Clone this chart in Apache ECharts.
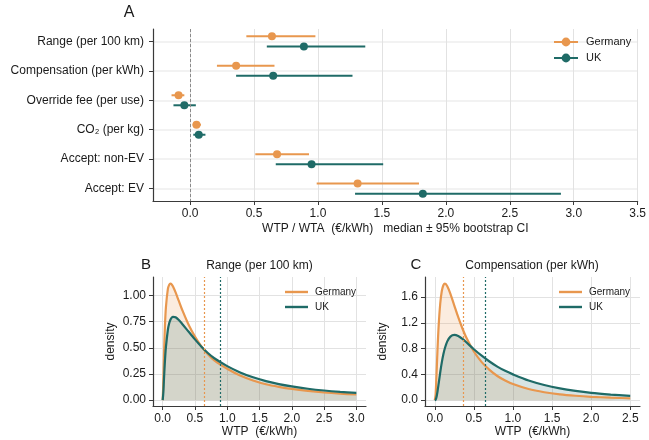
<!DOCTYPE html>
<html><head><meta charset="utf-8">
<script src="https://cdn.jsdelivr.net/npm/echarts@6/dist/echarts.min.js"></script>
<style>html,body{margin:0;padding:0;background:#fff}#c{width:649px;height:440px}</style>
</head><body><div id="c"></div>
<script>
// ---- data ----
const categories = ['Range (per 100 km)', 'Compensation (per kWh)', 'Override fee (per use)', 'CO₂ (per kg)', 'Accept: non-EV', 'Accept: EV'];
const gerMed = [0.64, 0.36, -0.09, 0.05, 0.68, 1.31];
const gerLo  = [0.44, 0.21, -0.145, 0.02, 0.51, 0.99];
const gerHi  = [0.98, 0.66, -0.045, 0.085, 0.93, 1.79];
const ukMed  = [0.89, 0.65, -0.045, 0.068, 0.95, 1.82];
const ukLo   = [0.60, 0.36, -0.13, 0.025, 0.67, 1.29];
const ukHi   = [1.37, 1.27, 0.045, 0.12, 1.51, 2.90];
const xTicksA = [0, 0.5, 1.0, 1.5, 2.0, 2.5, 3.0, 3.5];

const densXB   = [0, 0.01, 0.02, 0.035, 0.05, 0.08, 0.1, 0.12, 0.14, 0.16, 0.2, 0.25, 0.3, 0.4, 0.5, 0.6, 0.7, 0.8, 1.0, 1.2, 1.4, 1.6, 1.8, 2.0, 2.25, 2.5, 2.75, 3.0];
const densGerB = [0, 0.176, 0.426, 0.707, 0.885, 1.060, 1.101, 1.113, 1.105, 1.085, 1.029, 0.947, 0.866, 0.722, 0.606, 0.513, 0.439, 0.380, 0.300, 0.235, 0.188, 0.152, 0.127, 0.107, 0.088, 0.073, 0.062, 0.054];
const densUKB  = [0, 0.070, 0.200, 0.375, 0.506, 0.670, 0.732, 0.768, 0.788, 0.796, 0.791, 0.765, 0.730, 0.655, 0.580, 0.510, 0.450, 0.400, 0.325, 0.265, 0.218, 0.182, 0.153, 0.131, 0.109, 0.092, 0.079, 0.069];
const xTicksB = [0, 0.5, 1.0, 1.5, 2.0, 2.5, 3.0];
const yTicksB = [0, 0.25, 0.5, 0.75, 1.0];

const densXC   = [0, 0.01, 0.02, 0.035, 0.05, 0.07, 0.09, 0.11, 0.13, 0.16, 0.2, 0.25, 0.3, 0.35, 0.4, 0.5, 0.6, 0.7, 0.8, 0.9, 1.0, 1.2, 1.4, 1.6, 1.8, 2.0, 2.25, 2.5];
const densGerC = [0, 0.074, 0.330, 0.784, 1.160, 1.500, 1.693, 1.783, 1.808, 1.769, 1.651, 1.468, 1.287, 1.123, 0.980, 0.755, 0.590, 0.470, 0.375, 0.305, 0.250, 0.172, 0.123, 0.090, 0.068, 0.052, 0.038, 0.028];
const densUKC  = [0, 0.005, 0.036, 0.134, 0.260, 0.433, 0.586, 0.711, 0.809, 0.912, 0.986, 1.012, 0.995, 0.954, 0.902, 0.790, 0.690, 0.600, 0.520, 0.455, 0.400, 0.305, 0.235, 0.182, 0.143, 0.113, 0.087, 0.066];
const xTicksC = [0, 0.5, 1.0, 1.5, 2.0, 2.5];
const yTicksC = [0, 0.4, 0.8, 1.2, 1.6];

// ---- style ----
const GER = '#E8974E', UK = '#1F6B67';
const FONT = 'Liberation Sans';
const TXT = '#1a1a1a';
const AX = '#3a3a3a';
const OFF = 0.17;

function xAx(gi, min, max, ticks, dec, name, gap) {
  return {
    gridIndex: gi, type: 'value', min: min, max: max,
    axisLine: { show: true, onZero: false, lineStyle: { color: AX, width: 1.2 } },
    axisTick: { show: true, length: 4, customValues: ticks, lineStyle: { color: AX, width: 1 } },
    axisLabel: { customValues: ticks, formatter: v => v.toFixed(dec), fontSize: 12, color: TXT, margin: 7, fontFamily: FONT },
    splitLine: { show: true, lineStyle: { color: '#e2e2e2', width: 1 } },
    name: name, nameLocation: 'middle', nameGap: gap,
    nameTextStyle: { fontSize: 12, color: TXT, fontFamily: FONT }
  };
}
function yAx(gi, min, max, ticks, dec, name, gap) {
  return {
    gridIndex: gi, type: 'value', min: min, max: max,
    axisLine: { show: true, onZero: false, lineStyle: { color: AX, width: 1.2 } },
    axisTick: { show: true, length: 4, customValues: ticks, lineStyle: { color: AX, width: 1 } },
    axisLabel: { customValues: ticks, formatter: v => v.toFixed(dec), fontSize: 12, color: TXT, margin: 7, fontFamily: FONT },
    splitLine: { show: true, lineStyle: { color: '#e2e2e2', width: 1 } },
    name: name, nameLocation: 'middle', nameGap: gap,
    nameTextStyle: { fontSize: 12, color: TXT, fontFamily: FONT }
  };
}

const rowIdx = categories.map((c, i) => i);

function errSeries(name, lo, hi, off, color) {
  return {
    name: name, type: 'custom', xAxisIndex: 0, yAxisIndex: 0, z: 3,
    data: lo.map((v, i) => [v, hi[i], i]),
    renderItem: function (params, api) {
      const y = api.value(2) + off;
      const p1 = api.coord([api.value(0), y]);
      const p2 = api.coord([api.value(1), y]);
      return { type: 'line', shape: { x1: p1[0], y1: p1[1], x2: p2[0], y2: p2[1] },
               style: { stroke: color, lineWidth: 2 } };
    }
  };
}
function ptSeries(name, med, off, color, extra) {
  return Object.assign({
    name: name, type: 'scatter', xAxisIndex: 0, yAxisIndex: 0, z: 4,
    symbol: 'circle', symbolSize: 8,
    itemStyle: { color: color, opacity: 1 },
    data: med.map((v, i) => [v, i + off])
  }, extra || {});
}
function densSeries(name, xs, ys, gi, color, med) {
  return {
    name: name, type: 'line', xAxisIndex: gi, yAxisIndex: gi,
    data: xs.map((x, i) => [x, ys[i]]),
    smooth: 0.3, symbol: 'none', showSymbol: false,
    lineStyle: { color: color, width: 2.2 },
    itemStyle: { color: color },
    areaStyle: { color: color, opacity: 0.18 },
    markLine: { silent: true, symbol: 'none', label: { show: false },
      lineStyle: { color: color, type: [2, 2], width: 1.2 },
      data: [{ xAxis: med }] }
  };
}

const option = {
  animation: false,
  textStyle: { fontFamily: FONT },
  grid: [
    { left: 153, top: 29, width: 486, height: 172 },
    { left: 153, top: 277, width: 213, height: 129 },
    { left: 425, top: 277, width: 215, height: 129 }
  ],
  xAxis: [
    xAx(0, -0.29, 3.5, xTicksA, 1, 'WTP / WTA  (€/kWh)   median ± 95% bootstrap CI', 22),
    xAx(1, -0.15, 3.15, xTicksB, 1, 'WTP  (€/kWh)', 20),
    xAx(2, -0.125, 2.625, xTicksC, 1, 'WTP  (€/kWh)', 20)
  ],
  yAxis: [
    {
      gridIndex: 0, type: 'value', min: -0.42, max: 5.42, inverse: true,
      axisLine: { show: true, onZero: false, lineStyle: { color: AX, width: 1.2 } },
      axisTick: { show: true, length: 4, customValues: rowIdx, lineStyle: { color: AX, width: 1 } },
      axisLabel: { customValues: rowIdx, formatter: v => categories[Math.round(v)], fontSize: 12, color: TXT, margin: 9, fontFamily: FONT },
      splitLine: { show: true, lineStyle: { color: '#eeeeee', width: 1.6 } }
    },
    yAx(1, -0.056, 1.176, yTicksB, 2, 'density', 36),
    yAx(2, -0.091, 1.911, yTicksC, 1, 'density', 36)
  ],
  legend: [
    { orient: 'vertical', left: 553, top: 36.5, padding: 0, itemWidth: 24, itemHeight: 11, itemGap: 5,
      data: ['Germany', 'UK'], textStyle: { fontSize: 11, color: TXT, padding: [0, 0, 0, 3] },
      selectedMode: false },
    { orient: 'vertical', left: 285, top: 286, padding: 0, itemWidth: 23, itemHeight: 2.4, itemGap: 3, icon: 'rect',
      data: ['Germany_B', 'UK_B'], formatter: n => n.split('_')[0],
      textStyle: { fontSize: 10, color: TXT, padding: [0, 0, 0, 2], lineHeight: 12 }, selectedMode: false },
    { orient: 'vertical', left: 559, top: 286, padding: 0, itemWidth: 23, itemHeight: 2.4, itemGap: 3, icon: 'rect',
      data: ['Germany_C', 'UK_C'], formatter: n => n.split('_')[0],
      textStyle: { fontSize: 10, color: TXT, padding: [0, 0, 0, 2], lineHeight: 12 }, selectedMode: false }
  ],
  graphic: [
    { type: 'text', x: 129, y: 13, style: { text: 'A', font: '16px "Liberation Sans"', fill: TXT, textAlign: 'center', textVerticalAlign: 'middle' } },
    { type: 'text', x: 146, y: 265, style: { text: 'B', font: '15px "Liberation Sans"', fill: TXT, textAlign: 'center', textVerticalAlign: 'middle' } },
    { type: 'text', x: 416, y: 265, style: { text: 'C', font: '15px "Liberation Sans"', fill: TXT, textAlign: 'center', textVerticalAlign: 'middle' } },
    { type: 'text', x: 259.5, y: 266, style: { text: 'Range (per 100 km)', font: '12px "Liberation Sans"', fill: TXT, textAlign: 'center', textVerticalAlign: 'middle' } },
    { type: 'text', x: 532, y: 266, style: { text: 'Compensation (per kWh)', font: '12px "Liberation Sans"', fill: TXT, textAlign: 'center', textVerticalAlign: 'middle' } }
  ],
  series: [
    // legend proxies for panel A
    { name: 'Germany', type: 'line', xAxisIndex: 0, yAxisIndex: 0, data: [], symbol: 'circle', symbolSize: 8,
      lineStyle: { color: GER, width: 2 }, itemStyle: { color: GER } },
    { name: 'UK', type: 'line', xAxisIndex: 0, yAxisIndex: 0, data: [], symbol: 'circle', symbolSize: 8,
      lineStyle: { color: UK, width: 2 }, itemStyle: { color: UK } },
    errSeries('gerErr', gerLo, gerHi, -OFF, GER),
    errSeries('ukErr', ukLo, ukHi, OFF, UK),
    ptSeries('gerPts', gerMed, -OFF, GER, {
      markLine: { silent: true, symbol: 'none', label: { show: false },
        lineStyle: { color: '#8a8a8a', type: [3, 2], width: 1 }, data: [{ xAxis: 0 }] } }),
    ptSeries('ukPts', ukMed, OFF, UK),
    densSeries('Germany_B', densXB, densGerB, 1, GER, gerMed[0]),
    densSeries('UK_B', densXB, densUKB, 1, UK, ukMed[0]),
    densSeries('Germany_C', densXC, densGerC, 2, GER, gerMed[1]),
    densSeries('UK_C', densXC, densUKC, 2, UK, ukMed[1])
  ]
};
const chart = echarts.init(document.getElementById('c'), null, { renderer: 'canvas' });
chart.setOption(option);
</script></body></html>
